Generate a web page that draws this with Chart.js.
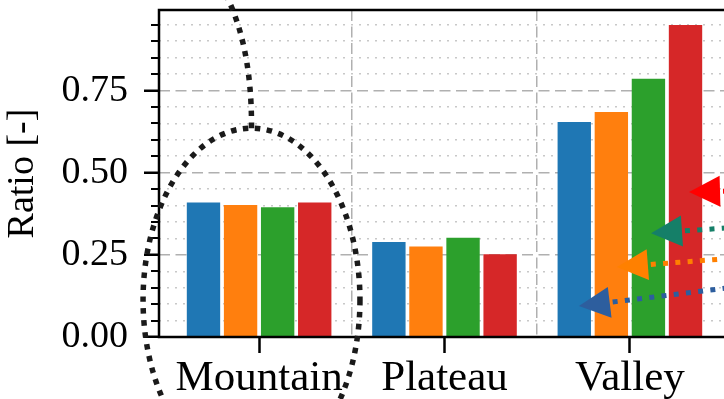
<!DOCTYPE html>
<html>
<head>
<meta charset="utf-8">
<script src="https://cdn.jsdelivr.net/npm/chart.js@4.4.1/dist/chart.umd.min.js"></script>
<style>
  html, body { margin: 0; padding: 0; overflow: hidden; background: #ffffff; }
  canvas { display: block; }
</style>
</head>
<body>
<canvas id="chart" width="745" height="399"></canvas>
<script>
// Terrain classes on the x axis and the four compared cases
const categories = ['Mountain', 'Plateau', 'Valley'];
const seriesNames = ['Case A', 'Case B', 'Case C', 'Case D'];
const caseA = [0.409, 0.289, 0.654];
const caseB = [0.402, 0.275, 0.685];
const caseC = [0.395, 0.302, 0.786];
const caseD = [0.409, 0.252, 0.949];
const yTickLabels = ['0.00', '0.25', '0.50', '0.75'];

const FONT = 'Liberation Serif';
const X_MIN = -0.54, X_MAX = 2.54;
const Y_MAX = 0.995;
const seriesValues = [caseA, caseB, caseC, caseD];
const seriesColors = ['#1f77b4', '#ff7f0e', '#2ca02c', '#d62728'];

// Highlight ring around the first group and the pointer arrows (data units)
const focusRing = { cx: -0.041, cy: 0.1125, rx: 0.585, ry: 0.523 };
const ringLead = { cp: { x: -0.038, y: 0.918 }, end: { x: -0.222, y: 1.085 } };
const pointers = [
  { tip: { x: 1.725, y: 0.094 }, tail: { x: 2.917, y: 0.176 }, color: '#2d5e9e' },
  { tip: { x: 1.930, y: 0.213 }, tail: { x: 2.917, y: 0.255 }, color: '#ff8000' },
  { tip: { x: 2.114, y: 0.316 }, tail: { x: 2.917, y: 0.347 }, color: '#157f68' },
  { tip: { x: 2.319, y: 0.441 }, tail: { x: 2.917, y: 0.450 }, color: '#ff0000' }
];

const isMajor = v => Math.abs(v / 0.25 - Math.round(v / 0.25)) < 1e-6;
const noPad = s => { s.paddingTop = 0; s.paddingBottom = 0; s.paddingLeft = 0; s.paddingRight = 0; };

const datasets = seriesValues.map((vals, s) => ({
  label: seriesNames[s],
  data: vals.map((v, i) => ({ x: i, y: v })),
  backgroundColor: seriesColors[s],
  borderWidth: 0,
  categoryPercentage: 0.8,
  barPercentage: 0.9
}));

const decorations = {
  id: 'decorations',
  afterDatasetsDraw(chart) {
    const { ctx, chartArea: a, scales: { y } } = chart;
    ctx.save();
    // short minor tick marks on the value axis
    ctx.strokeStyle = '#000';
    ctx.lineWidth = 2;
    y.ticks.forEach(t => {
      if (isMajor(t.value)) return;
      const py = Math.round(y.getPixelForValue(t.value));
      ctx.beginPath();
      ctx.moveTo(a.left - 8, py);
      ctx.lineTo(a.left, py);
      ctx.stroke();
    });
    // axes frame
    ctx.lineWidth = 2.5;
    ctx.strokeRect(a.left, a.top, a.right - a.left, a.bottom - a.top);
    ctx.restore();
  },
  afterDraw(chart) {
    const { ctx, scales: { x, y } } = chart;
    const px = p => ({ x: x.getPixelForValue(p.x), y: y.getPixelForValue(p.y) });
    ctx.save();
    ctx.lineCap = 'butt';

    // dotted ring and its lead line
    const c = px({ x: focusRing.cx, y: focusRing.cy });
    const rx = Math.abs(x.getPixelForValue(focusRing.cx + focusRing.rx) - c.x);
    const ry = Math.abs(y.getPixelForValue(focusRing.cy + focusRing.ry) - c.y);
    ctx.strokeStyle = '#1a1a1a';
    ctx.lineWidth = 5.5;
    ctx.setLineDash([5.5, 6.5]);
    ctx.beginPath();
    ctx.ellipse(c.x, c.y, rx, ry, 0, 0, Math.PI * 2);
    ctx.stroke();
    const cp = px(ringLead.cp), end = px(ringLead.end);
    ctx.beginPath();
    ctx.moveTo(c.x, c.y - ry);
    ctx.quadraticCurveTo(cp.x, cp.y, end.x, end.y);
    ctx.stroke();

    // dotted arrows
    pointers.forEach(p => {
      const tip = px(p.tip), tail = px(p.tail);
      const dx = tail.x - tip.x, dy = tail.y - tip.y;
      const len = Math.hypot(dx, dy);
      const ux = dx / len, uy = dy / len;
      const headLen = 31, headHalf = 15.5;
      const bx = tip.x + ux * headLen, by = tip.y + uy * headLen;
      ctx.strokeStyle = p.color;
      ctx.lineWidth = 5;
      ctx.setLineDash([5, 7.3]);
      ctx.beginPath();
      ctx.moveTo(bx + ux * 3, by + uy * 3);
      ctx.lineTo(tail.x, tail.y);
      ctx.stroke();
      ctx.setLineDash([]);
      ctx.fillStyle = p.color;
      ctx.beginPath();
      ctx.moveTo(tip.x, tip.y);
      ctx.lineTo(bx - uy * headHalf, by + ux * headHalf);
      ctx.lineTo(bx + uy * headHalf, by - ux * headHalf);
      ctx.closePath();
      ctx.fill();
    });
    ctx.restore();
  }
};

new Chart(document.getElementById('chart'), {
  type: 'bar',
  data: { datasets },
  options: {
    responsive: false,
    animation: false,
    devicePixelRatio: 1,
    layout: { padding: { top: 10, right: 15, left: 0, bottom: 0 } },
    plugins: { legend: { display: false }, tooltip: { enabled: false } },
    scales: {
      x: {
        type: 'linear',
        position: 'bottom',
        offset: false,
        min: X_MIN,
        max: X_MAX,
        afterBuildTicks: s => { s.ticks = categories.map((_, i) => ({ value: i })); },
        afterFit: s => { s.height = 62; noPad(s); },
        ticks: {
          callback: v => categories[v] ?? '',
          font: { family: FONT, size: 43 },
          color: '#000',
          padding: 0,
          autoSkip: false,
          maxRotation: 0
        },
        grid: { offset: false, drawOnChartArea: false, drawTicks: true, tickLength: 16, tickWidth: 2.5, tickColor: '#000' },
        border: { display: false }
      },
      xGrid: {
        type: 'linear',
        position: 'top',
        offset: false,
        min: X_MIN,
        max: X_MAX,
        afterBuildTicks: s => { s.ticks = [0.5, 1.5].map(v => ({ value: v })); },
        afterFit: s => { s.height = 0; noPad(s); },
        ticks: { display: false },
        grid: { offset: false, drawTicks: false, color: '#b0b0b0', lineWidth: 1.5 },
        border: { display: false, dash: [11, 5.5] }
      },
      y: {
        min: 0,
        max: Y_MAX,
        afterFit: s => { s.width = 159; noPad(s); },
        ticks: {
          stepSize: 0.05,
          includeBounds: false,
          autoSkip: false,
          callback: v => isMajor(v) ? yTickLabels[Math.round(v / 0.25)] : '',
          font: { family: FONT, size: 38 },
          color: '#000',
          padding: 16
        },
        grid: {
          color: c => (c.tick && isMajor(c.tick.value)) ? '#b0b0b0' : '#c8c8c8',
          lineWidth: 1.5,
          drawTicks: true,
          tickLength: 15,
          tickWidth: 2.5,
          tickColor: c => (c.tick && isMajor(c.tick.value)) ? '#000' : 'rgba(0,0,0,0)'
        },
        border: {
          display: false,
          dash: c => (c.tick && isMajor(c.tick.value)) ? [11, 5.5] : [2, 6]
        },
        title: {
          display: true,
          text: 'Ratio [-]',
          font: { family: FONT, size: 38 },
          color: '#000',
          padding: 0
        }
      }
    }
  },
  plugins: [decorations]
});
</script>
</body>
</html>
